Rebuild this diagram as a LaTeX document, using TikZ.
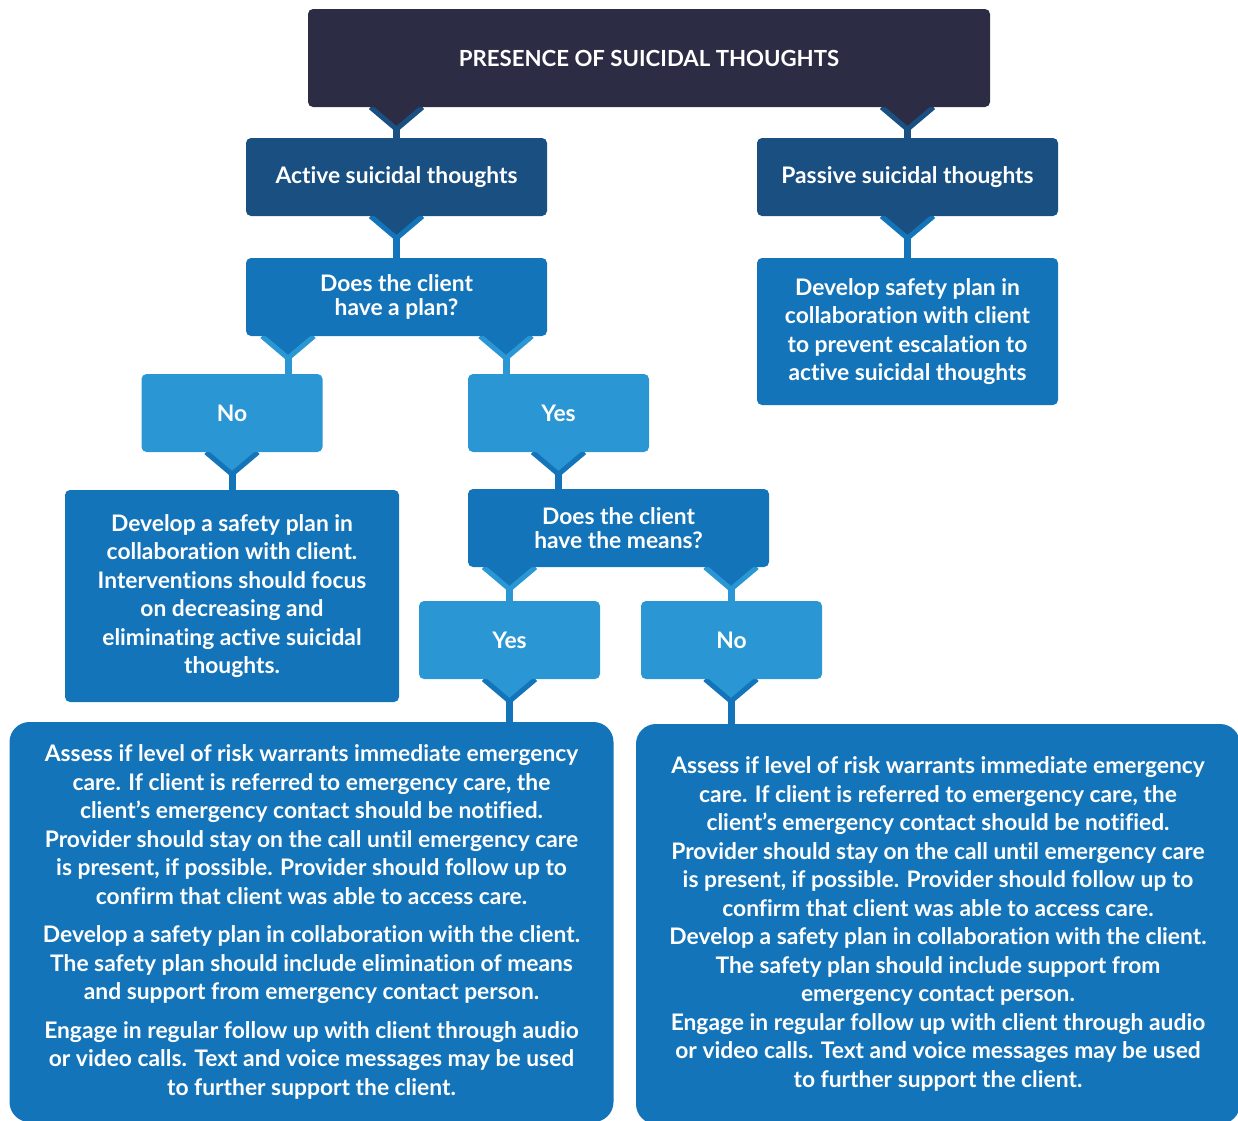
\documentclass[tikz,border=0pt]{standalone}
\usepackage{fontspec}
\setmainfont{Lato}[Ligatures=NoCommon]
\usetikzlibrary{calc,backgrounds}

\definecolor{navy}{HTML}{2C2D45}
\definecolor{darkblue}{HTML}{194F81}
\definecolor{midblue}{HTML}{1474B9}
\definecolor{lightblue}{HTML}{2A97D4}

% parent, child, x of the joint, parent colour, child colour
\newcommand{\notch}[5]{%
  \begin{scope}[on background layer]
  \draw[#5,line width=7pt] let \p1=(#1.south), \p2=(#2.north) in (#3pt,\y1) -- (#3pt,\y2);
  \filldraw[draw=#5,fill=#4,line width=5pt,miter limit=10] let \p1=(#1.south) in
    (#3pt-26pt,\y1) -- (#3pt,\y1-22pt) -- (#3pt+26pt,\y1);
  \end{scope}}

\begin{document}
\begin{tikzpicture}[x=1pt,y=-1pt,
  box/.style={rectangle,rounded corners=5pt,inner sep=0pt,align=center,text=white,
    font=\bfseries\fontsize{22.8}{28.5}\selectfont},
  title node/.style={box,fill=navy,minimum width=682pt,minimum height=98pt,
    font=\bfseries\fontsize{22.2}{28.5}\selectfont},
  dark node/.style={box,fill=darkblue,minimum width=301pt,minimum height=78pt},
  question node/.style={box,fill=midblue,minimum width=301pt,minimum height=78pt,
    font=\bfseries\fontsize{22.8}{24}\selectfont},
  answer node/.style={box,fill=lightblue,minimum width=181pt,minimum height=78pt},
  action node/.style={box,fill=midblue},
  big node/.style={box,fill=midblue,rounded corners=20pt,minimum width=604pt,minimum height=400pt}]

  \useasboundingbox (0,0) rectangle (1238,1120);

  \node[title node] (top) at (649,58) {PRESENCE OF SUICIDAL THOUGHTS};
  \node[dark node] (active) at (396.5,177) {Active suicidal thoughts};
  \node[dark node] (passive) at (907.5,177) {Passive suicidal thoughts};
  \node[question node] (plan) at (396.5,297) {Does the client\\have a plan?};
  \node[action node,minimum width=301pt,minimum height=147pt] (pdev) at (907.5,331.5)
    {Develop safety plan in\\collaboration with client\\to prevent escalation to\\active suicidal thoughts};
  \node[answer node] (no1) at (232,413) {No};
  \node[answer node] (yes1) at (558.5,413) {Yes};
  \node[action node,minimum width=334pt,minimum height=212pt] (ndev) at (232,596)
    {Develop a safety plan in\\collaboration with client.\\Interventions should focus\\on decreasing and\\eliminating active suicidal\\thoughts.};
  \node[question node] (means) at (618.5,528) {Does the client\\have the means?};
  \node[answer node] (yes2) at (509.5,640) {Yes};
  \node[answer node] (no2) at (731.5,640) {No};
  \node[big node] (bigl) at (311.5,922)
    {Assess if level of risk warrants immediate emergency\\care. If client is referred to emergency care, the\\client’s emergency contact should be notified.\\Provider should stay on the call until emergency care\\is present, if possible. Provider should follow up to\\confirm that client was able to access care.\\[10pt]
     Develop a safety plan in collaboration with the client.\\The safety plan should include elimination of means\\and support from emergency contact person.\\[10pt]
     Engage in regular follow up with client through audio\\or video calls. Text and voice messages may be used\\to further support the client.};
  \node[big node] (bigr) at (938,924)
    {Assess if level of risk warrants immediate emergency\\care. If client is referred to emergency care, the\\client’s emergency contact should be notified.\\Provider should stay on the call until emergency care\\is present, if possible. Provider should follow up to\\confirm that client was able to access care.\\Develop a safety plan in collaboration with the client.\\The safety plan should include support from\\emergency contact person.\\Engage in regular follow up with client through audio\\or video calls. Text and voice messages may be used\\to further support the client.};

  \notch{top}{active}{396.5}{navy}{darkblue}
  \notch{top}{passive}{907.5}{navy}{darkblue}
  \notch{active}{plan}{396.5}{darkblue}{midblue}
  \notch{passive}{pdev}{907.5}{darkblue}{midblue}
  \notch{plan}{no1}{288}{midblue}{lightblue}
  \notch{plan}{yes1}{506}{midblue}{lightblue}
  \notch{no1}{ndev}{232}{lightblue}{midblue}
  \notch{yes1}{means}{558.5}{lightblue}{midblue}
  \notch{means}{yes2}{509.5}{midblue}{lightblue}
  \notch{means}{no2}{731}{midblue}{lightblue}
  \notch{yes2}{bigl}{509.5}{lightblue}{midblue}
  \notch{no2}{bigr}{731}{lightblue}{midblue}
\end{tikzpicture}
\end{document}
